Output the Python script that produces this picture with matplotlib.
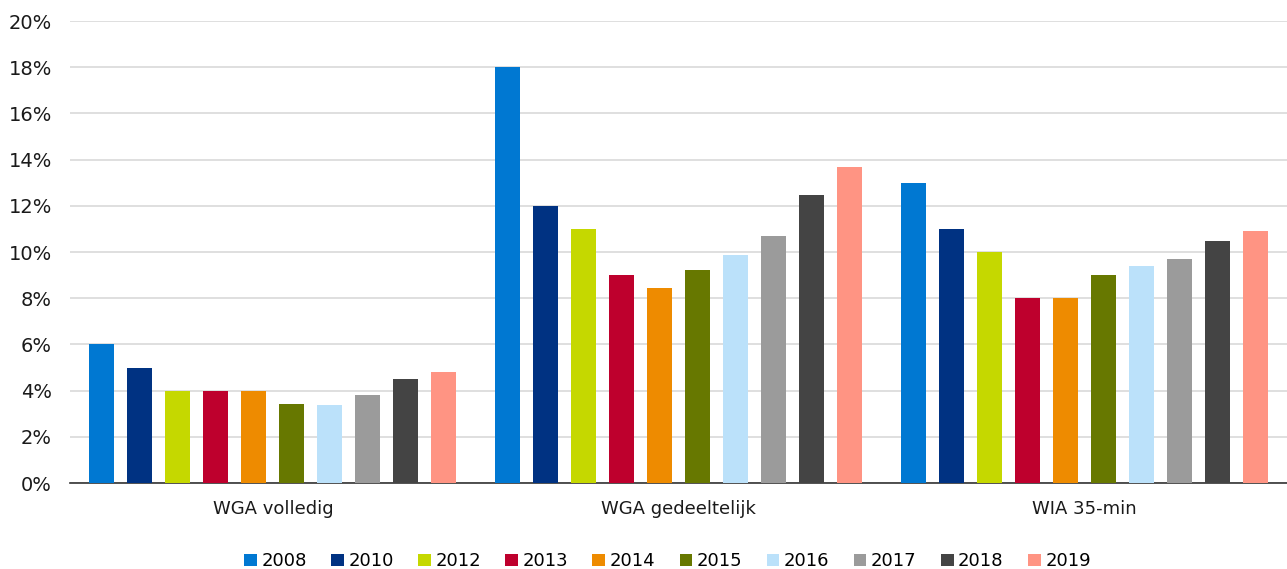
import numpy as np
import matplotlib
matplotlib.use('Agg')
import matplotlib.pyplot as plt
from matplotlib.ticker import PercentFormatter

categories = ['WGA volledig', 'WGA gedeeltelijk', 'WIA 35-min']
years = ['2008', '2010', '2012', '2013', '2014', '2015', '2016', '2017', '2018', '2019']
wga_volledig = [6.0, 5.0, 4.0, 4.0, 4.0, 3.43, 3.37, 3.8, 4.5, 4.8]
wga_gedeeltelijk = [18.0, 12.0, 11.0, 9.0, 8.44, 9.22, 9.87, 10.7, 12.47, 13.68]
wia_35min = [13.0, 11.0, 10.0, 8.0, 8.0, 9.0, 9.4, 9.7, 10.47, 10.9]
colors = ['#0078D2', '#003282', '#C5D800', '#BE002D', '#EE8B00',
          '#677800', '#BBE1FA', '#9B9B9B', '#444444', '#FF9483']

values = np.array([wga_volledig, wga_gedeeltelijk, wia_35min]).T  # year x category

plt.rcParams['font.family'] = ['DejaVu Sans']
fig = plt.figure(figsize=(12.87, 5.69), dpi=100)
ax = fig.add_axes([0.0544, 0.151, 0.9456, 0.812])

x = np.arange(len(categories))
step = 0.0937
width = 0.062
for i, yr in enumerate(years):
    ax.bar(x + (i - 4.5) * step, values[i], width=width, color=colors[i], label=yr, zorder=3)

ax.set_xlim(-0.5, 2.5)
ax.set_ylim(0, 20)
ax.set_yticks(np.arange(0, 21, 2))
ax.yaxis.set_major_formatter(PercentFormatter(decimals=0))
ax.set_xticks(x)
ax.set_xticklabels(categories, fontsize=13)
ax.grid(axis='y', color='#D9D9D9', linewidth=1.2, zorder=0)
for s in ['top', 'right', 'left']:
    ax.spines[s].set_visible(False)
ax.spines['bottom'].set_color('#333333')
ax.spines['bottom'].set_linewidth(1.2)
ax.tick_params(axis='both', length=0, colors='#1a1a1a')
ax.tick_params(axis='y', labelsize=14, pad=13)
ax.tick_params(axis='x', pad=12)

ax.legend(loc='upper center', bbox_to_anchor=(0.491, -0.115), ncol=10, frameon=False,
          fontsize=13, handlelength=0.7, handleheight=0.7, handletextpad=0.25,
          columnspacing=1.35)

fig.savefig('out.png', dpi=100)
